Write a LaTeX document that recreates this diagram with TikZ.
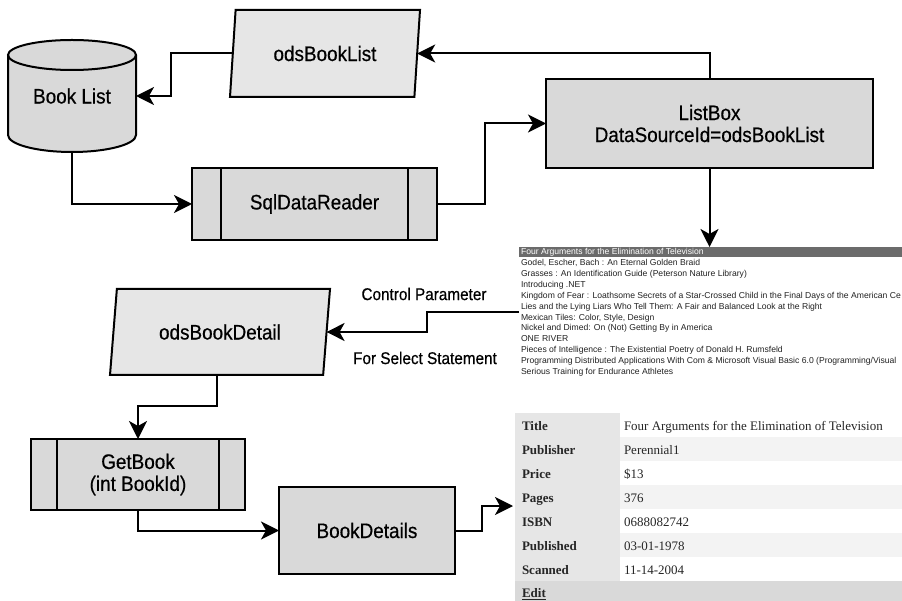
\documentclass[tikz,border=0pt]{standalone}
\usepackage{fontspec}
\usetikzlibrary{shapes.geometric,arrows.meta}
\newfontfamily\diagfont{Liberation Sans}[FakeStretch=0.9,FakeBold=0.5]
\newfontfamily\listfont{Liberation Sans}
\newfontfamily\tablefont{Liberation Serif}
\definecolor{boxgray}{HTML}{D9D9D9}
\definecolor{iogray}{HTML}{E6E6E6}
\definecolor{selgray}{HTML}{6B6B6B}
\definecolor{labgray}{HTML}{E6E6E6}
\definecolor{altrow}{HTML}{F3F3F3}
\definecolor{editgray}{HTML}{D9D9D9}
\definecolor{listtext}{HTML}{222222}
\begin{document}
\begin{tikzpicture}[x=1pt,y=-1pt,
  every node/.style={inner sep=0pt,outer sep=0pt},
  bigtext/.style={font=\diagfont\fontsize{21}{22}\selectfont,align=center},
  block/.style={bigtext,draw=black,line width=2pt,fill=boxgray},
  iobox/.style={bigtext,trapezium,trapezium stretches body,draw=black,line width=2pt,fill=iogray},
  smalllabel/.style={font=\diagfont\fontsize{17}{20}\selectfont},
  conn/.style={line width=2pt,-{Stealth[length=18pt,width=18pt,inset=5pt]}},
  listrow/.style={anchor=base west,text=listtext,font=\listfont\fontsize{8.6}{10}\selectfont},
  tlabel/.style={anchor=base west,text=black!85,font=\tablefont\bfseries\fontsize{13}{15}\selectfont},
  tvalue/.style={anchor=base west,text=black!85,font=\tablefont\fontsize{13}{15}\selectfont}]
\useasboundingbox (0,0) rectangle (902,601);
\fill[white] (0,0) rectangle (902,601);

% ---- database cylinder ----
\path[fill=boxgray] (8,55) -- (8,135)
  arc[start angle=180,end angle=360,x radius=64pt,y radius=17pt]
  -- (136,55)
  arc[start angle=0,end angle=180,x radius=64pt,y radius=15pt] -- cycle;
\draw[line width=2pt] (8,55) -- (8,135)
  arc[start angle=180,end angle=360,x radius=64pt,y radius=17pt]
  -- (136,55);
\draw[line width=2pt] (72,55) ellipse[x radius=64pt,y radius=15pt];
\node[bigtext,minimum width=128pt,minimum height=112pt] (booklist) at (72,96) {Book List};

% ---- data sources ----
\node[iobox,trapezium left angle=70,trapezium right angle=110,
      minimum width=190pt,minimum height=87pt] (odslist) at (325,53.5) {odsBookList};
\node[iobox,trapezium left angle=66,trapezium right angle=114,
      minimum width=220pt,minimum height=86pt] (odsdetail) at (220,332) {odsBookDetail};

% ---- predefined processes ----
\node[block,minimum width=245pt,minimum height=72pt] (reader) at (314.5,204) {SqlDataReader};
\draw[line width=2pt] ([xshift=29pt]reader.north west) -- ([xshift=29pt]reader.south west)
                      ([xshift=-29pt]reader.north east) -- ([xshift=-29pt]reader.south east);
\node[block,minimum width=214pt,minimum height=71pt] (getbook) at (138,474.5) {GetBook\\(int BookId)};
\draw[line width=2pt] ([xshift=26pt]getbook.north west) -- ([xshift=26pt]getbook.south west)
                      ([xshift=-26pt]getbook.north east) -- ([xshift=-26pt]getbook.south east);

% ---- controls ----
\node[block,minimum width=327pt,minimum height=89pt] (listbox) at (709.5,123.5) {ListBox\\DataSourceId=odsBookList};
\node[block,minimum width=176pt,minimum height=87pt] (details) at (367,530.5) {BookDetails};

% ---- rendered list box ----
\node[anchor=north west,minimum width=383pt,minimum height=131pt] (listview) at (519,247) {};
\begin{scope}
  \clip (519,240) rectangle (902,380);
  \fill[selgray] (519,247) rectangle (902,257);
  \node[listrow,text=white] at (521,254.7) {Four Arguments for the Elimination of Television};
  \foreach \t [count=\i] in {
    {Godel, Escher, Bach : An Eternal Golden Braid},
    {Grasses : An Identification Guide (Peterson Nature Library)},
    {Introducing .NET},
    {Kingdom of Fear : Loathsome Secrets of a Star-Crossed Child in the Final Days of the American Ce},
    {Lies and the Lying Liars Who Tell Them: A Fair and Balanced Look at the Right},
    {Mexican Tiles: Color, Style, Design},
    {Nickel and Dimed: On (Not) Getting By in America},
    {ONE RIVER},
    {Pieces of Intelligence : The Existential Poetry of Donald H. Rumsfeld},
    {Programming Distributed Applications With Com \& Microsoft Visual Basic 6.0 (Programming/Visual},
    {Serious Training for Endurance Athletes}}
    \node[listrow] at (521,254.7+10.9*\i) {\t};
\end{scope}

% ---- rendered details view ----
\node[anchor=north west,minimum width=387pt,minimum height=188pt] (detailview) at (515,413) {};
\fill[labgray] (515,413) rectangle (620,581);
\foreach \r in {1,3,5} \fill[altrow] (620,413+24*\r) rectangle (902,437+24*\r);
\fill[editgray] (515,581) rectangle (902,601);
\foreach \lab/\val [count=\i from 0] in {Title/Four Arguments for the Elimination of Television,
    Publisher/Perennial1, Price/\$13, Pages/376, ISBN/0688082742,
    Published/03-01-1978, Scanned/11-14-2004} {
  \node[tlabel] at (522,430.5+24*\i) {\lab};
  \node[tvalue] at (624,430.5+24*\i) {\val};
}
\node[tlabel] (edit) at (522,597.5) {\underline{Edit}};

% ---- connectors ----
\draw[conn] (odslist.west) -- ++(-62,0) |- (booklist.east);
\draw[conn] (booklist.south) |- (reader.west);
\draw[conn] (reader.east) -- ++(48,0) |- (listbox.west);
\draw[conn] (listbox.north) |- (odslist.east);
\draw[conn] (listbox.south) -- (listbox.south |- listview.north);
\coordinate (cpstart) at (519,312);
\draw[conn] (cpstart) -- ++(-92,0) |- (odsdetail.east);
\node[smalllabel] (cplabel) at (424,294) {Control Parameter};
\node[smalllabel] (sslabel) at (425,358) {For Select Statement};
\draw[conn] (odsdetail.bottom side) -- ++(0,31) -| (getbook.north);
\draw[conn] (getbook.south) |- (details.west);
\coordinate (tablein) at (513,506);
\draw[conn] (details.east) -- ++(27,0) |- (tablein);
\end{tikzpicture}
\end{document}
